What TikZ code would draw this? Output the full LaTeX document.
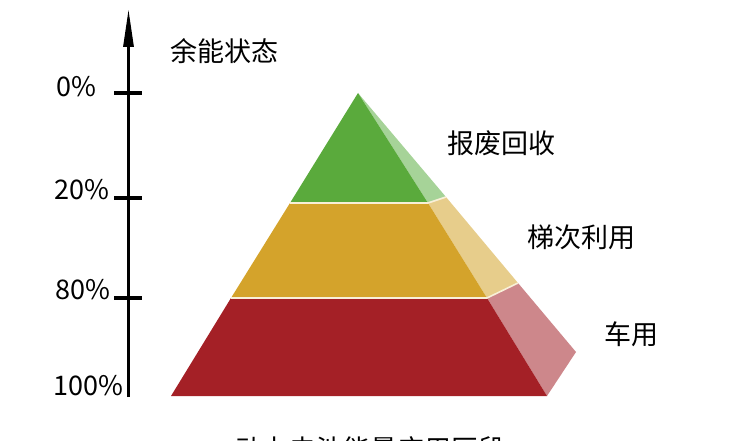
\documentclass[tikz,border=0pt]{standalone}
\usepackage{fontspec}
\setmainfont{Noto Sans CJK SC}
\usetikzlibrary{arrows.meta}
\definecolor{gfront}{HTML}{5AAA3C}
\definecolor{gside}{HTML}{A6D398}
\definecolor{yfront}{HTML}{D4A32B}
\definecolor{yside}{HTML}{E7CD8B}
\definecolor{rfront}{HTML}{A42026}
\definecolor{rside}{HTML}{CD878B}
\definecolor{sep}{HTML}{F8F0D8}
\begin{document}
\begin{tikzpicture}[x=1pt,y=-1pt,
  lbl/.style={font=\fontsize{27}{31}\selectfont, inner sep=0pt, text=black},
  face/.style={draw=sep, line width=1.2pt, line join=round},
  axisline/.style={line width=3pt, -{Stealth[length=38pt,width=10pt,inset=0pt]}},
  tickline/.style={line width=3.4pt}]
\useasboundingbox (0,0) rectangle (744,441);
\clip (0,0) rectangle (744,441);
% axis
\coordinate (ab) at (128.5,397);
\coordinate (at) at (128.5,9);
\draw[axisline] (ab) -- (at);
\coordinate (t0a) at (114,93);  \coordinate (t0b) at (142,93);
\coordinate (t1a) at (114,198); \coordinate (t1b) at (142,198);
\coordinate (t2a) at (114,298); \coordinate (t2b) at (142,298);
\draw[tickline] (t0a) -- (t0b);
\draw[tickline] (t1a) -- (t1b);
\draw[tickline] (t2a) -- (t2b);
\node[lbl, anchor=east] (l0) at (97,87) {0\%};
\node[lbl, anchor=east] (l1) at (110,190) {20\%};
\node[lbl, anchor=east] (l2) at (111,290) {80\%};
\node[lbl, anchor=east] (l3) at (124,386) {100\%};
\node[lbl, anchor=west] (title) at (170,51) {余能状态};
% pyramid
\coordinate (apex) at (358,93);
\coordinate (gL) at (290,203); \coordinate (gR) at (428,203); \coordinate (gS) at (446,197);
\coordinate (yL) at (231,298); \coordinate (yR) at (487,298); \coordinate (yS) at (518,283);
\coordinate (rL) at (171,396); \coordinate (rR) at (547,396); \coordinate (rS) at (576,352);
\fill[rside] (yR) -- (yS) -- (rS) -- (rR) -- cycle;
\fill[yside] (gR) -- (gS) -- (yS) -- (yR) -- cycle;
\fill[gside] (apex) -- (gS) -- (gR) -- cycle;
\fill[rfront] (yL) -- (yR) -- (rR) -- (rL) -- cycle;
\fill[yfront] (gL) -- (gR) -- (yR) -- (yL) -- cycle;
\fill[gfront] (apex) -- (gR) -- (gL) -- cycle;
\draw[sep, line width=1.6pt] (gL) -- (gR) -- (gS);
\draw[sep, line width=1.6pt] (yL) -- (yR) -- (yS);
% labels
\node[lbl, anchor=west] (s1) at (447,143) {报废回收};
\node[lbl, anchor=west] (s2) at (527,237) {梯次利用};
\node[lbl, anchor=west] (s3) at (604,334) {车用};
\node[lbl] (cap) at (370,449) {动力电池能量应用区段};
\end{tikzpicture}
\end{document}
